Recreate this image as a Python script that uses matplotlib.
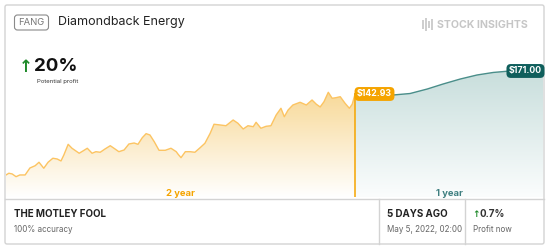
import matplotlib.pyplot as plt
import matplotlib.colors as mcolors
import numpy as np
from matplotlib.patches import FancyBboxPatch, PathPatch

plt.rcParams['font.family'] = ['Inter', 'DejaVu Sans']

# ---------------- data ----------------
hist_days = [0, 6, 13, 21, 29, 40, 50, 61, 69, 79, 88, 98, 107, 115, 121, 130, 138,
             153, 161, 170, 180, 188, 197, 207, 218, 228, 236, 247, 257, 268, 276,
             285, 293, 301, 310, 320, 333, 345, 356, 360, 366, 375, 385, 395, 406,
             416, 427, 435, 448, 460, 475, 485, 496, 506, 517, 523, 533, 544, 554,
             565, 575, 582, 590, 600, 615, 628, 640, 649, 657, 665, 674, 682, 690,
             699, 709, 718, 724, 730]
hist_price = [44.1, 46.2, 45.3, 42.0, 44.1, 44.1, 52.6, 55.4, 59.6, 52.3, 59.6, 64.5,
              63.6, 61.2, 68.5, 81.5, 76.7, 70.6, 73.4, 76.7, 70.6, 72.5, 71.8, 75.8,
              79.8, 75.8, 72.5, 74.6, 81.9, 83.1, 81.5, 89.6, 94.5, 92.9, 84.7, 74.2,
              74.2, 76.7, 72.5, 69.3, 65.2, 72.5, 72.5, 71.8, 77.4, 82.8, 95.0, 106.0,
              105.1, 104.2, 111.2, 107.2, 100.2, 104.2, 103.0, 108.4, 101.1, 103.5,
              104.2, 117.3, 125.5, 115.2, 123.4, 129.5, 132.8, 129.5, 135.6, 130.4,
              127.1, 133.5, 145.0, 137.7, 138.4, 139.6, 131.6, 125.5, 130.4, 142.93]
fc_days = [730, 770, 810, 845, 881, 914, 950, 985, 1019, 1054, 1123]
fc_price = [142.93, 141.8, 141.7, 143.5, 149.0, 155.1, 161.2, 166.1, 169.2, 171.0, 171.0]

current_label = '$142.93'
target_label = '$171.00'
ticker = 'FANG'
company = 'Diamondback Energy'
profit_pct = '20%'
source = 'THE MOTLEY FOOL'
accuracy = '100% accuracy'
when = '5 DAYS AGO'
when_date = 'May 5, 2022, 02:00'
profit_now = '0.7%'

# ---------------- figure ----------------
W, H = 550, 250
fig = plt.figure(figsize=(W / 100, H / 100), dpi=100)
fig.patch.set_facecolor('white')

bg = fig.add_axes([0, 0, 1, 1], zorder=0)
bg.set_xlim(0, W)
bg.set_ylim(H, 0)
bg.axis('off')

border = '#d3d3d3'
bg.add_patch(FancyBboxPatch((5, 5), 539, 239, boxstyle='round,pad=0,rounding_size=2',
                            fc='white', ec=border, lw=1))

# header
bg.add_patch(FancyBboxPatch((14.5, 15), 34, 15, boxstyle='round,pad=0,rounding_size=3',
                            fc='white', ec='#8a8a8a', lw=0.8))
bg.text(31.5, 22.8, ticker, fontsize=6.8, color='#777777', ha='center', va='center')
bg.text(58, 22.5, company, fontsize=9, color='#222222', ha='left', va='center')

# stock insights logo
for hh, xx in [(9, 422.5), (13, 425.5), (7, 428.5), (11, 431.5)]:
    bg.plot([xx, xx], [24 + hh / 2, 24 - hh / 2], color='#c9c9c9', lw=1.3,
            solid_capstyle='butt')
bg.text(437, 24.5, 'STOCK INSIGHTS', fontsize=7.6, color='#c6c6c6',
        fontweight='bold', ha='left', va='center')

bg.text(19, 67, '↑', fontsize=12, color='#1f8a2a', fontweight='bold',
        ha='left', va='center', family=['DejaVu Sans'])
bg.text(34, 66.5, profit_pct, fontsize=13.5, color='#111111', fontweight='bold',
        ha='left', va='center')
bg.text(37, 82, 'Potential profit', fontsize=4.3, color='#333333', ha='left', va='center')

# footer
bg.plot([5, 544], [198.5, 198.5], color=border, lw=1)
bg.plot([379, 379], [198.5, 244], color=border, lw=1)
bg.plot([465, 465], [198.5, 244], color=border, lw=1)
bg.text(14, 214, source, fontsize=7, color='#222222', fontweight='bold',
        ha='left', va='center')
bg.text(14, 230, accuracy, fontsize=5.8, color='#666666', ha='left', va='center')
bg.text(387, 214, when, fontsize=7, color='#222222', fontweight='bold',
        ha='left', va='center')
bg.text(387, 230, when_date, fontsize=5.8, color='#666666', ha='left', va='center')
bg.text(472, 214.5, '↑', fontsize=6.5, color='#1f8a2a', fontweight='bold',
        ha='left', va='center', family=['DejaVu Sans'])
bg.text(479.5, 214, profit_now, fontsize=7, color='#333333', fontweight='bold',
        ha='left', va='center')
bg.text(473, 230, 'Profit now', fontsize=5.8, color='#666666', ha='left', va='center')

# ---------------- chart ----------------
ax = fig.add_axes([6 / W, 1 - 197 / H, 537 / W, 137 / H], zorder=1)
ax.patch.set_alpha(0)
ax.axis('off')
ybot, ytop = 17.2, 184.4
xmin, xmax = 0, 1123


def grad_fill(x, y, c_top, c_bot):
    poly = ax.fill_between(x, y, ybot, color='none', lw=0)
    patch = PathPatch(poly.get_paths()[0], transform=ax.transData,
                      fc='none', ec='none')
    ax.add_patch(patch)
    t = np.linspace(1, 0, 256)[:, None, None]
    ct = np.array(mcolors.to_rgb(c_top))[None, None, :]
    cb = np.array(mcolors.to_rgb(c_bot))[None, None, :]
    img = ct * t + cb * (1 - t)
    im = ax.imshow(img, extent=[min(x), max(x), ybot, max(y)], aspect='auto',
                   origin='upper', zorder=1)
    im.set_clip_path(patch)


grad_fill(hist_days, hist_price, '#f8d998', '#ffffff')
grad_fill(fc_days, fc_price, '#c8dedc', '#fbfdfd')

ax.plot(hist_days, hist_price, color='#fcc462', lw=1.0, zorder=3)
ax.plot(fc_days, fc_price, color='#4a8e8a', lw=1.0, zorder=3)
ax.plot([hist_days[-1], hist_days[-1]], [ybot, hist_price[-1]], color='#f5a400',
        lw=1.1, zorder=4)

ax.set_xlim(xmin, xmax)
ax.set_ylim(ybot, ytop)

ax.text(hist_days[-1] + 4, hist_price[-1], current_label, fontsize=6.3, color='white',
        fontweight='bold', ha='left', va='center', zorder=6,
        bbox=dict(boxstyle='round,pad=0.28,rounding_size=0.5', fc='#f5a400',
                  ec='none'))
ax.text(fc_days[-1] - 2, fc_price[-1], target_label, fontsize=6.3, color='white',
        fontweight='bold', ha='right', va='center', zorder=6,
        bbox=dict(boxstyle='round,pad=0.28,rounding_size=0.5', fc='#0f5f5c',
                  ec='none'))

ax.text((hist_days[0] + hist_days[-1]) / 2, 22, '2 year', fontsize=6.8,
        color='#f5a400', fontweight='bold', ha='center', va='center')
ax.text(928, 22, '1 year', fontsize=6.8, color='#3f7f80', fontweight='bold',
        ha='center', va='center')

fig.savefig('out.png', dpi=100)
